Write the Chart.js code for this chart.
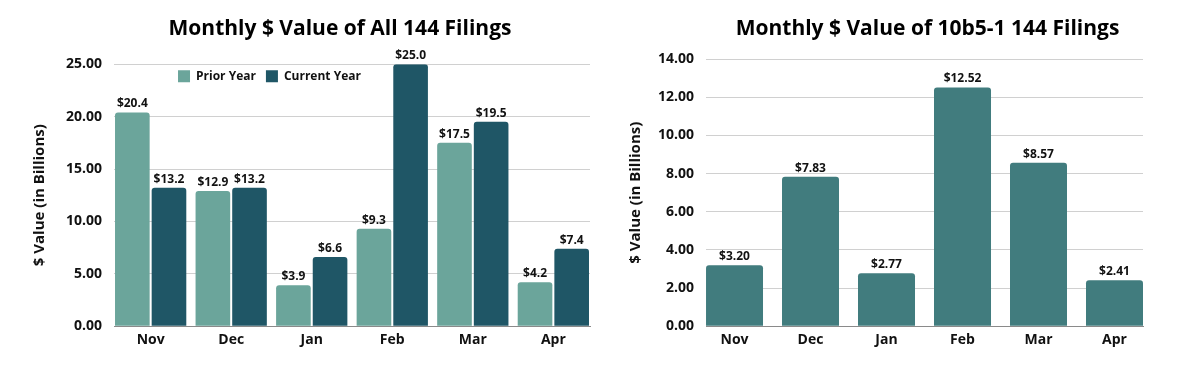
<!DOCTYPE html>
<html>
<head>
<meta charset="utf-8">
<script src="https://cdn.jsdelivr.net/npm/chart.js@4.4.1/dist/chart.umd.min.js"></script>
<style>
  html, body { margin: 0; padding: 0; background: #fff; }
  #wrap { position: relative; width: 1193px; height: 375px; overflow: hidden; }
  .box { position: absolute; top: 0; height: 375px; }
  #leftBox { left: 0; width: 610px; }
  #rightBox { left: 610px; width: 583px; }
</style>
</head>
<body>
<div id="wrap">
  <div class="box" id="leftBox"><canvas id="chartAll"></canvas></div>
  <div class="box" id="rightBox"><canvas id="chart10b5"></canvas></div>
</div>
<script>
// data ($ billions)
var months = ['Nov', 'Dec', 'Jan', 'Feb', 'Mar', 'Apr'];
var priorYear = [20.4, 12.9, 3.9, 9.3, 17.5, 4.2];
var currentYear = [13.2, 13.2, 6.6, 25.0, 19.5, 7.4];
var tenb5Values = [3.20, 7.83, 2.77, 12.52, 8.57, 2.41];

Chart.defaults.font.family = "'Open Sans', sans-serif";
Chart.defaults.font.weight = 'bold';
Chart.defaults.color = '#111';

// write "$x.x" over each bar
var valueLabels = {
    id: 'valueLabels',
    afterDatasetsDraw: function (chart, args, opts) {
        var ctx = chart.ctx;
        ctx.save();
        ctx.font = 'bold 12px "Open Sans"';
        ctx.fillStyle = '#111';
        ctx.textAlign = 'center';
        ctx.textBaseline = 'alphabetic';
        chart.data.datasets.forEach(function (ds, i) {
            chart.getDatasetMeta(i).data.forEach(function (bar, j) {
                ctx.fillText('$' + ds.data[j].toFixed(opts.digits), bar.x, bar.y - 5);
            });
        });
        ctx.restore();
    }
};

// move title / legend after layout (legend sits inside the plot, like the original)
var nudge = {
    id: 'nudge',
    afterLayout: function (chart, args, opts) {
        var t = chart.titleBlock;
        if (t) {
            t.left += opts.titleX || 0;
            t.right += opts.titleX || 0;
            t.top += opts.titleY || 0;
            t.bottom += opts.titleY || 0;
        }
        var lg = chart.legend;
        if (lg && lg.options.display) {
            var w = lg.width, h = lg.height;
            lg.left = chart.chartArea.left + opts.legendX;
            lg.right = lg.left + w;
            lg.top = chart.chartArea.top + opts.legendY;
            lg.bottom = lg.top + h;
        }
    }
};

// let the outer bars touch the plot edges
function edgeFit(frac) {
    return function (s) {
        var scale = s.scale || s;
        scale._startValue = scale.min - frac / 2;
        scale._valueRange = scale.max - scale.min + frac;
    };
}

function yAxis(max, step, titlePad) {
    return {
        min: 0,
        max: max,
        ticks: {
            stepSize: step,
            padding: 12,
            font: { size: 14, weight: 'bold' },
            callback: function (v) { return v.toFixed(2); }
        },
        grid: { color: '#d0d0d0', drawTicks: false },
        border: { display: false },
        title: {
            display: true,
            text: '$ Value (in Billions)',
            font: { size: 15, weight: 'bold' },
            padding: { top: 0, bottom: titlePad }
        }
    };
}

function xAxis(frac) {
    return {
        grid: { display: false, drawTicks: false },
        border: { display: true, color: '#8a8a8a', width: 1 },
        ticks: { padding: 5, font: { size: 14, weight: 'bold' } },
        afterBuildTicks: edgeFit(frac)
    };
}

new Chart(document.getElementById('chartAll').getContext('2d'), {
    type: 'bar',
    data: {
        labels: months,
        datasets: [{
            label: 'Prior Year',
            data: priorYear,
            backgroundColor: '#6ba59b',
            borderRadius: 3,
            borderSkipped: 'start'
        },
        {
            label: 'Current Year',
            data: currentYear,
            backgroundColor: '#1f5666',
            borderRadius: 3,
            borderSkipped: 'start'
        }]
    },
    options: {
        responsive: true,
        maintainAspectRatio: false,
        animation: false,
        categoryPercentage: 0.91,
        barPercentage: 0.945,
        layout: { padding: { left: 31, right: 20, top: 0, bottom: 22 } },
        scales: {
            x: xAxis(0.91),
            y: yAxis(25, 5, 5)
        },
        plugins: {
            title: {
                display: true,
                text: 'Monthly $ Value of All 144 Filings',
                fullSize: false,
                color: '#000',
                font: { size: 21, weight: 'bold' },
                padding: { top: 2, bottom: 5 }
            },
            legend: {
                position: 'top',
                fullSize: false,
                align: 'start',
                labels: {
                    boxWidth: 12,
                    boxHeight: 12,
                    padding: 10,
                    color: '#111',
                    font: { size: 12, weight: 'bold' }
                }
            },
            tooltip: { enabled: false },
            valueLabels: { digits: 1 },
            nudge: { titleX: -12, titleY: 14, legendX: 54, legendY: -4 }
        }
    },
    plugins: [valueLabels, nudge]
});

new Chart(document.getElementById('chart10b5').getContext('2d'), {
    type: 'bar',
    data: {
        labels: months,
        datasets: [{
            label: '10b5-1',
            data: tenb5Values,
            backgroundColor: '#417c7e',
            borderRadius: 3,
            borderSkipped: 'start'
        }]
    },
    options: {
        responsive: true,
        maintainAspectRatio: false,
        animation: false,
        categoryPercentage: 0.75,
        barPercentage: 1,
        layout: { padding: { left: 17, right: 50, top: 0, bottom: 22 } },
        scales: {
            x: xAxis(0.75),
            y: yAxis(14, 2, 1)
        },
        plugins: {
            title: {
                display: true,
                text: 'Monthly $ Value of 10b5-1 144 Filings',
                fullSize: false,
                color: '#000',
                font: { size: 21, weight: 'bold' },
                padding: { top: 16, bottom: 18 }
            },
            legend: { display: false },
            tooltip: { enabled: false },
            valueLabels: { digits: 2 },
            nudge: { titleX: 3 }
        }
    },
    plugins: [valueLabels, nudge]
});
</script>
</body>
</html>
